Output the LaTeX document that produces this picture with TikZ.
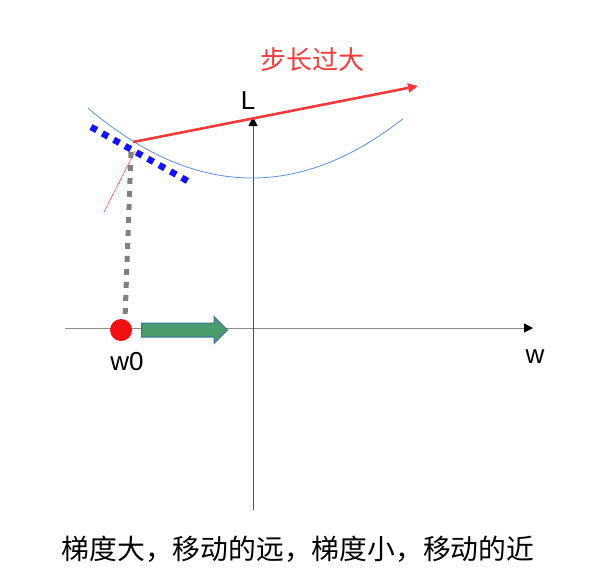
\documentclass[tikz,border=0pt]{standalone}
\usepackage{fontspec}
\setmainfont{Liberation Sans}
\newfontfamily\cjk{Noto Sans CJK SC}
\usetikzlibrary{arrows.meta, shapes.arrows, positioning, calc}
\definecolor{axisgray}{HTML}{8C8C8C}
\definecolor{axisdark}{HTML}{505050}
\definecolor{curveblue}{HTML}{5B8FDD}
\definecolor{tanblue}{HTML}{1414F0}
\definecolor{stepred}{HTML}{F23A3A}
\definecolor{dotred}{HTML}{F21010}
\definecolor{dropgray}{HTML}{808080}
\definecolor{movegreen}{HTML}{4A9C6C}
\definecolor{moveedge}{HTML}{41719C}
\tikzset{
  axisline/.style={line width=1pt, -{Triangle[length=9pt, width=9pt, color=black]}},
  tangentdots/.style={tanblue, line width=6.5pt, dash pattern=on 6.5pt off 6.5pt},
  dropdots/.style={dropgray, line width=5pt, dash pattern=on 6pt off 7pt}
}

\begin{document}
\begin{tikzpicture}[x=1pt, y=-1pt, font=\fontsize{26}{30}\selectfont]
  \useasboundingbox (0,0) rectangle (604,574);
  \coordinate (xstart) at (65,328);
  \coordinate (xend) at (533,328);
  \coordinate (ystart) at (253,510);
  \coordinate (yend) at (253,117);
  \draw[axisline, axisgray] (xstart) -- (xend);
  \draw[axisline, axisdark] (ystart) -- (yend);
  \node (ylabel) at (248,101) {L};
  \node (xlabel) at (535,357) {w};
  \draw[curveblue, line width=0.8pt] plot[domain=88:403, smooth, samples=60]
    (\x, {178 - (0.051*(\x-252))^2});
  \coordinate (touch) at (133,142);
  \coordinate (tanA) at (91,127);
  \coordinate (tanB) at (193,184);
  \draw[tangentdots] (tanA) -- (tanB);
  \coordinate (normA) at (104,212);
  \coordinate (normB) at (135,151);
  \draw[stepred, line width=0.5pt] (normA) -- (normB);
  \node[circle, fill=dotred, minimum size=22pt, inner sep=0pt] (w0) at (121,330) {};
  \node (w0label) at (127,362) {w0};
  \coordinate (dropA) at (131,152);
  \draw[dropdots] (dropA) -- ([xshift=4pt]w0.north);
  \node[single arrow, fill=movegreen, draw=moveedge, line width=1pt,
        minimum height=86pt, inner sep=6.5pt,
        single arrow head extend=6.5pt] (move) at (181,330) {};
  \coordinate (tip) at (418,86);
  \draw[stepred, line width=2.6pt, -{Triangle[length=10pt, width=9pt]}] (touch) -- (tip);
  \node[text=stepred] (steplabel) at (312,60) {\cjk 步长过大};
  \node (caption) at (298,549) {\cjk\fontsize{27.8}{32}\selectfont 梯度大，移动的远，梯度小，移动的近};
\end{tikzpicture}
\end{document}
